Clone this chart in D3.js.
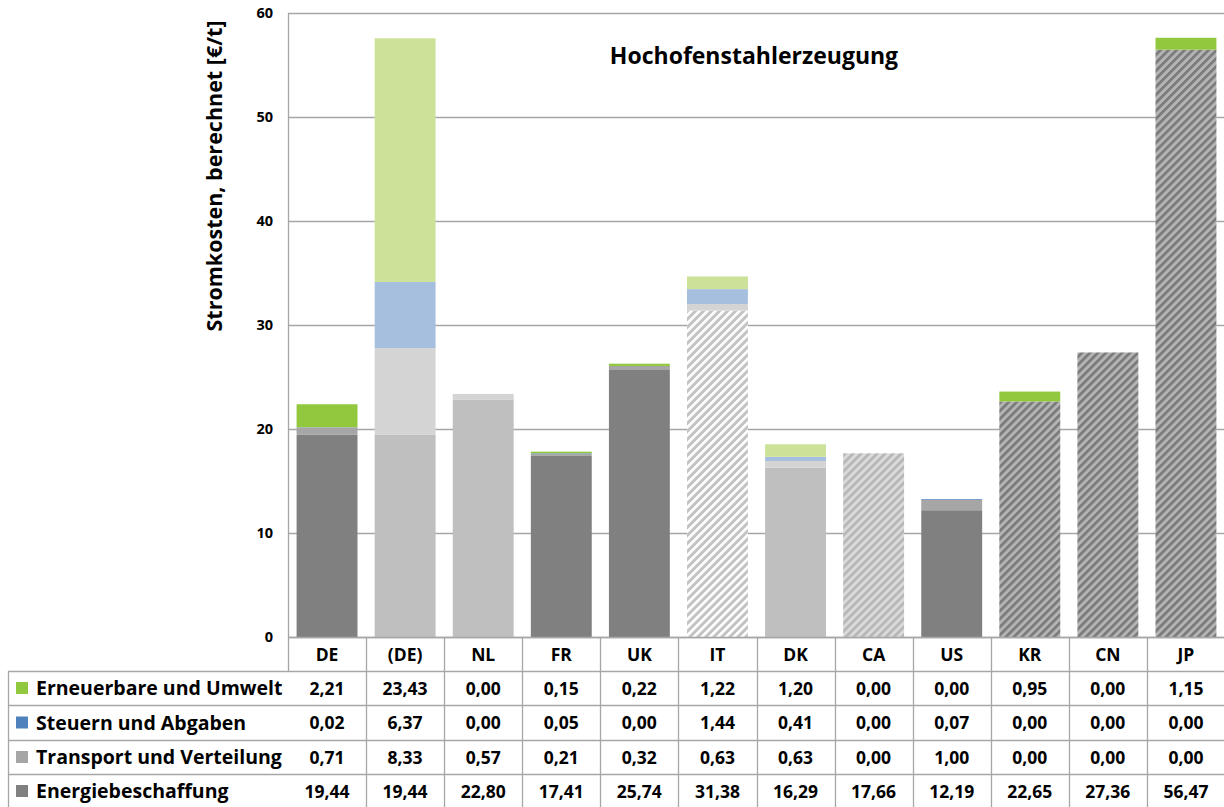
<!DOCTYPE html>
<html>
<head>
<meta charset="utf-8">
<script src="https://cdn.jsdelivr.net/npm/d3@7/dist/d3.min.js"></script>
<style>
  html, body { margin: 0; padding: 0; background: #fff; }
  svg { display: block; font-family: "Open Sans", Lato, sans-serif; }
  text { font-weight: 700; fill: #000; }
</style>
</head>
<body>
<svg id="chart" width="1224" height="807"></svg>
<script>
// Countries along the x axis
const categories = ["DE", "(DE)", "NL", "FR", "UK", "IT", "DK", "CA", "US", "KR", "CN", "JP"];

// Cost components in €/t, bottom to top of each stack
const energiebeschaffung   = [19.44, 19.44, 22.80, 17.41, 25.74, 31.38, 16.29, 17.66, 12.19, 22.65, 27.36, 56.47];
const transportVerteilung  = [0.71, 8.33, 0.57, 0.21, 0.32, 0.63, 0.63, 0.00, 1.00, 0.00, 0.00, 0.00];
const steuernAbgaben       = [0.02, 6.37, 0.00, 0.05, 0.00, 1.44, 0.41, 0.00, 0.07, 0.00, 0.00, 0.00];
const erneuerbareUmwelt    = [2.21, 23.43, 0.00, 0.15, 0.22, 1.22, 1.20, 0.00, 0.00, 0.95, 0.00, 1.15];

const seriesNames = ["Energiebeschaffung", "Transport und Verteilung", "Steuern und Abgaben", "Erneuerbare und Umwelt"];
const seriesValues = [energiebeschaffung, transportVerteilung, steuernAbgaben, erneuerbareUmwelt];

const yTicks = [0, 10, 20, 30, 40, 50, 60];
const chartTitle = "Hochofenstahlerzeugung";
const yAxisTitle = "Stromkosten, berechnet [€/t]";

// Fill scheme per country: solid dark, solid light, or hatched variants
const barStyle = {
  "DE": "dark", "(DE)": "light", "NL": "light", "FR": "dark", "UK": "dark",
  "IT": "hatchWhite", "DK": "light", "CA": "hatchPale", "US": "dark",
  "KR": "hatchDark", "CN": "hatchDark", "JP": "hatchDark"
};
const palettes = {
  dark:       ["#808080", "#a6a6a6", "#4f81bd", "#92c83e"],
  light:      ["#bfbfbf", "#d4d4d4", "#a7bfde", "#cce299"],
  hatchWhite: ["url(#hatchWhite)", "#d4d4d4", "#a7bfde", "#cce299"],
  hatchPale:  ["url(#hatchPale)", "#d4d4d4", "#a7bfde", "#cce299"],
  hatchDark:  ["url(#hatchDark)", "#a6a6a6", "#4f81bd", "#92c83e"]
};
const legendColors = ["#808080", "#a6a6a6", "#4f81bd", "#92c83e"];

const svg = d3.select("#chart");
const W = 1224;
const plot = { left: 288, right: 1225, top: 13, bottom: 637 };
const tableLeft = 8;
const rowY = [637, 671, 705, 740, 774, 808];

// Hatch patterns (diagonal stripes rising to the right)
const defs = svg.append("defs");
function hatch(id, bg, stripe) {
  const s = 5.66;
  const p = defs.append("pattern")
    .attr("id", id)
    .attr("patternUnits", "userSpaceOnUse")
    .attr("width", s).attr("height", s)
    .attr("patternTransform", "rotate(45)");
  p.append("rect").attr("width", s).attr("height", s).attr("fill", bg);
  p.append("rect").attr("x", 0).attr("width", 2.7).attr("height", s).attr("fill", stripe);
}
hatch("hatchWhite", "#c2c2c2", "#ffffff");
hatch("hatchPale", "#dadada", "#b6b6b6");
hatch("hatchDark", "#b4b4b4", "#7a7a7a");

const x = d3.scaleBand()
  .domain(categories)
  .range([plot.left, plot.right])
  .paddingInner(0.22)
  .paddingOuter(0.11);
const xCol = d3.scaleBand().domain(categories).range([plot.left, plot.right]);

const y = d3.scaleLinear().domain([0, 60]).range([plot.bottom, plot.top]);

// Gridlines
svg.append("g")
  .selectAll("line")
  .data(yTicks)
  .join("line")
  .attr("x1", plot.left).attr("x2", W)
  .attr("y1", d => Math.round(y(d)) + 0.5).attr("y2", d => Math.round(y(d)) + 0.5)
  .attr("stroke", "#a6a6a6").attr("stroke-width", 1.3);

// Tick labels
svg.append("g")
  .selectAll("text")
  .data(yTicks)
  .join("text")
  .attr("x", 273)
  .attr("y", d => y(d) + 5)
  .attr("text-anchor", "end")
  .attr("font-size", 14.5)
  .text(d => d);

// Stacked bars
const table = categories.map((c, i) => {
  const row = { cat: c };
  seriesNames.forEach((s, k) => row[s] = seriesValues[k][i]);
  return row;
});
const stack = d3.stack().keys(seriesNames)(table);

svg.append("g")
  .selectAll("g")
  .data(stack)
  .join("g")
  .each(function (layer, k) {
    d3.select(this).selectAll("rect")
      .data(layer.filter(d => d[1] - d[0] > 0))
      .join("rect")
      .attr("x", d => x(d.data.cat))
      .attr("width", x.bandwidth())
      .attr("y", d => y(d[1]))
      .attr("height", d => y(d[0]) - y(d[1]))
      .attr("fill", d => palettes[barStyle[d.data.cat]][k]);
  });

// Vertical axis line
svg.append("line")
  .attr("x1", plot.left + 0.5).attr("x2", plot.left + 0.5)
  .attr("y1", plot.top).attr("y2", rowY[1])
  .attr("stroke", "#a6a6a6").attr("stroke-width", 1.3);

// Chart title
svg.append("text")
  .attr("x", 754).attr("y", 64)
  .attr("text-anchor", "middle")
  .attr("font-size", 23)
  .text(chartTitle);

// Y axis title
svg.append("text")
  .attr("transform", "translate(222,176) rotate(-90)")
  .attr("text-anchor", "middle")
  .attr("font-size", 21.5)
  .text(yAxisTitle);

// Data table below the plot
const grid = svg.append("g").attr("stroke", "#a6a6a6").attr("stroke-width", 1.3);
// horizontal rules
rowY.forEach((yy, i) => {
  grid.append("line")
    .attr("x1", i === 0 ? plot.left : tableLeft).attr("x2", W)
    .attr("y1", yy + 0.5).attr("y2", yy + 0.5);
});
// column separators
categories.forEach(c => {
  grid.append("line")
    .attr("x1", Math.round(xCol(c) + xCol.bandwidth()) + 0.5)
    .attr("x2", Math.round(xCol(c) + xCol.bandwidth()) + 0.5)
    .attr("y1", rowY[0]).attr("y2", rowY[5]);
});
grid.append("line")
  .attr("x1", tableLeft + 0.5).attr("x2", tableLeft + 0.5)
  .attr("y1", rowY[1]).attr("y2", rowY[5]);

// header row: country labels
svg.append("g")
  .selectAll("text")
  .data(categories)
  .join("text")
  .attr("x", d => xCol(d) + xCol.bandwidth() / 2)
  .attr("y", (rowY[0] + rowY[1]) / 2 + 6.5)
  .attr("text-anchor", "middle")
  .attr("font-size", 17.5)
  .text(d => d);

// value rows, top row is the last series
const fmt = v => v.toFixed(2).replace(".", ",");
const rowOrder = [3, 2, 1, 0];
rowOrder.forEach((k, r) => {
  const cy = (rowY[r + 1] + rowY[r + 2]) / 2;
  svg.append("rect")
    .attr("x", 16).attr("y", cy - 6)
    .attr("width", 12).attr("height", 12)
    .attr("fill", legendColors[k]);
  svg.append("text")
    .attr("x", 36).attr("y", cy + 7)
    .attr("font-size", 19.5)
    .text(seriesNames[k]);
  svg.append("g")
    .selectAll("text")
    .data(seriesValues[k])
    .join("text")
    .attr("x", (d, i) => xCol(categories[i]) + xCol.bandwidth() / 2)
    .attr("y", cy + 6.5)
    .attr("text-anchor", "middle")
    .attr("font-size", 17.5)
    .text(d => fmt(d));
});
</script>
</body>
</html>
